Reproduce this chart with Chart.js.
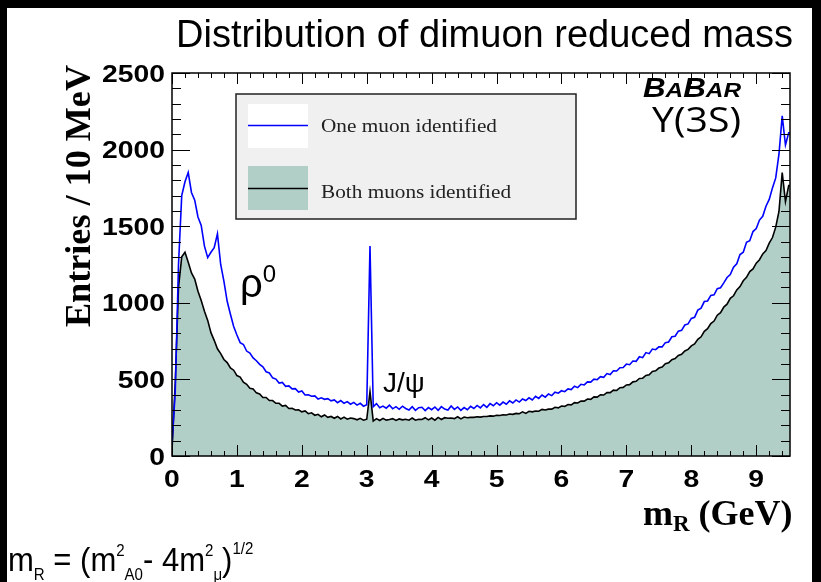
<!DOCTYPE html>
<html>
<head>
<meta charset="utf-8">
<script src="https://cdn.jsdelivr.net/npm/chart.js@4.4.1/dist/chart.umd.min.js"></script>
<style>
  html, body { margin: 0; padding: 0; background: #000; }
  canvas { display: block; }
</style>
</head>
<body>
<canvas id="dimuon" width="821" height="582"></canvas>
<script>
// one point per 50 MeV, starting at 0 GeV
var binWidth = 0.05;

// One muon identified (blue line)
var oneMuon = [
  80, 420, 1250, 1700, 1790, 1850, 1720, 1670, 1560, 1505,
  1370, 1295, 1330, 1360, 1450, 1250, 1140, 1010, 925, 845,
  790, 740, 728, 685, 672, 640, 622, 598, 582, 550,
  542, 510, 502, 476, 480, 455, 458, 438, 440, 418,
  425, 398, 400, 390, 392, 372, 380, 370, 374, 360,
  366, 348, 362, 344, 355, 338, 350, 332, 344, 325,
  335, 1370, 322, 342, 315, 326, 312, 332, 308, 322,
  305, 325, 310, 300, 322, 298, 315, 318, 296, 316,
  302, 320, 298, 322, 306, 300, 326, 304, 320, 298,
  316, 302, 324, 310, 330, 314, 336, 318, 342, 328,
  348, 332, 352, 338, 360, 346, 366, 352, 372, 362,
  380, 366, 390, 376, 398, 384, 405, 394, 416, 410,
  426, 420, 438, 434, 455, 446, 468, 464, 484, 482,
  502, 498, 518, 514, 538, 532, 556, 555, 576, 578,
  600, 596, 620, 618, 648, 642, 675, 668, 698, 694,
  712, 712, 740, 744, 778, 782, 815, 820, 855, 862,
  898, 905, 952, 965, 1008, 1012, 1048, 1052, 1092, 1098,
  1130, 1165, 1185, 1232, 1255, 1315, 1330, 1395, 1405, 1465,
  1485, 1540, 1565, 1630, 1675, 1750, 1815, 1970, 2220, 2030,
  2110
];

// Both muons identified (black line, filled)
var bothMuons = [
  40, 480, 1100, 1300, 1330, 1265, 1195, 1155, 1075, 1015,
  945, 885, 805, 755, 700, 668, 630, 610, 575, 560,
  525, 515, 482, 468, 442, 438, 412, 405, 382, 382,
  362, 362, 344, 344, 326, 330, 310, 312, 300, 302,
  288, 294, 276, 282, 266, 272, 256, 268, 252, 258,
  246, 258, 242, 254, 240, 248, 244, 236, 246, 234,
  240, 420, 228, 244, 232, 246, 234, 238, 244, 232,
  242, 236, 240, 234, 248, 234, 240, 238, 250, 236,
  248, 234, 252, 238, 250, 246, 248, 244, 256, 242,
  254, 250, 252, 252, 256, 254, 258, 258, 262, 260,
  266, 264, 269, 268, 274, 272, 278, 276, 288, 278,
  292, 288, 294, 292, 304, 300, 306, 306, 318, 314,
  326, 324, 336, 334, 348, 346, 358, 358, 372, 370,
  386, 384, 400, 398, 414, 414, 430, 428, 446, 448,
  464, 466, 484, 488, 506, 508, 526, 530, 552, 556,
  574, 581, 602, 608, 629, 636, 656, 664, 686, 696,
  719, 731, 762, 778, 814, 831, 864, 881, 919, 936,
  972, 991, 1029, 1046, 1084, 1106, 1144, 1166, 1204, 1221,
  1259, 1281, 1319, 1341, 1389, 1426, 1494, 1596, 1850, 1660,
  1765
];

var xTickLabels = ['0', '1', '2', '3', '4', '5', '6', '7', '8', '9'];
var yTickLabels = ['0', '500', '1000', '1500', '2000', '2500'];
var xMax = 9.52;
var fillColor = '#b2cfc7';

function toPoints(vals) {
  var pts = vals.map(function (v, i) {
    return { x: +(i * binWidth).toFixed(2), y: v };
  });
  pts.push({ x: xMax, y: vals[vals.length - 1] });
  return pts;
}

function stretched(c, txt, x, y, font, sx, align) {
  c.font = font;
  var w = c.measureText(txt).width * sx;
  var x0 = align === 'right' ? x - w : (align === 'center' ? x - w / 2 : x);
  c.save();
  c.translate(x0, y);
  c.scale(sx, 1);
  c.textAlign = 'left';
  c.fillText(txt, 0, 0);
  c.restore();
}

function fitted(c, txt, x, y, font, width) {
  c.font = font;
  var sx = width / c.measureText(txt).width;
  stretched(c, txt, x, y, font, sx, 'left');
}

// a row of text pieces: [text, size, dy, style, family]
function runs(c, x, y, list) {
  list.forEach(function (r) {
    c.font = (r[3] ? r[3] + ' ' : '') + r[1] + 'px ' + r[4];
    c.textAlign = 'left';
    c.fillText(r[0], x, y + r[2]);
    x += c.measureText(r[0]).width;
  });
}

var rootStyle = {
  id: 'rootStyle',
  beforeDraw: function (chart) {
    var c = chart.ctx;
    c.save();
    c.fillStyle = '#000';
    c.fillRect(0, 0, chart.width, chart.height);
    c.fillStyle = '#fff';
    c.fillRect(7, 8, 805, 574);
    c.restore();
  },
  afterDraw: function (chart) {
    var c = chart.ctx, a = chart.chartArea;
    var xs = chart.scales.x, ys = chart.scales.y;
    c.save();

    // frame + inward ticks
    c.strokeStyle = '#000';
    c.lineWidth = 1;
    for (var v = 0; v <= 2500; v += 100) {
      var py = Math.round(ys.getPixelForValue(v)) + 0.5;
      var len = v % 500 === 0 ? 18 : 9;
      c.beginPath();
      c.moveTo(a.left, py); c.lineTo(a.left + len, py);
      c.moveTo(a.right, py); c.lineTo(a.right - len, py);
      c.stroke();
    }
    for (var k = 0; k * 0.2 <= xMax; k++) {
      var px = Math.round(xs.getPixelForValue(k * 0.2)) + 0.5;
      var l2 = k % 5 === 0 ? 11 : 5;
      c.beginPath();
      c.moveTo(px, a.bottom); c.lineTo(px, a.bottom - l2);
      c.moveTo(px, a.top); c.lineTo(px, a.top + l2);
      c.stroke();
    }
    c.lineWidth = 1.5;
    c.strokeRect(a.left, a.top, a.right - a.left, a.bottom - a.top);

    // tick labels
    c.fillStyle = '#000';
    c.textBaseline = 'alphabetic';
    yTickLabels.forEach(function (t) {
      stretched(c, t, a.left - 7, ys.getPixelForValue(+t) + 8.5,
        'bold 24px "Liberation Sans"', 1.18, 'right');
    });
    xTickLabels.forEach(function (t) {
      stretched(c, t, xs.getPixelForValue(+t), a.bottom + 31,
        'bold 24px "Liberation Sans"', 1.18, 'center');
    });

    // title
    fitted(c, 'Distribution of dimuon reduced mass', 176, 47,
      '38px "Liberation Sans"', 617);

    // y axis title
    c.save();
    c.translate(90, 327);
    c.rotate(-Math.PI / 2);
    fitted(c, 'Entries / 10 MeV', 0, 0, 'bold 36px "Liberation Serif"', 262);
    c.restore();

    // x axis title
    var serif = '"Liberation Serif"';
    runs(c, 643, 525, [
      ['m', 36, 0, 'bold', serif],
      ['R', 23, 6, 'bold', serif],
      [' (GeV)', 36, 0, 'bold', serif]
    ]);

    // formula
    var sans = '"Liberation Sans"';
    c.save();
    c.translate(8, 571);
    c.scale(0.94, 1);
    runs(c, 0, 0, [
      ['m', 33, 0, '', sans], ['R', 16, 9, '', sans], [' = (m', 33, 0, '', sans],
      ['2', 16, -15, '', sans], ['A0', 16, 9, '', sans], ['- 4m', 33, 0, '', sans],
      ['2', 16, -15, '', sans], ['\u03bc', 16, 9, '', sans], [')', 33, 0, '', sans],
      ['1/2', 16, -17, '', sans]
    ]);
    c.restore();

    // legend
    c.fillStyle = '#f0f0f0';
    c.fillRect(236, 94, 340, 125);
    c.strokeStyle = '#222';
    c.lineWidth = 1.5;
    c.strokeRect(236, 94, 340, 125);
    c.fillStyle = '#fff';
    c.fillRect(248, 104, 60, 44);
    c.fillStyle = fillColor;
    c.fillRect(248, 166, 60, 44);
    c.strokeStyle = '#0000ff';
    c.beginPath(); c.moveTo(248, 125.5); c.lineTo(308, 125.5); c.stroke();
    c.strokeStyle = '#000';
    c.beginPath(); c.moveTo(248, 188.5); c.lineTo(308, 188.5); c.stroke();
    c.fillStyle = '#222';
    fitted(c, 'One muon identified', 321, 132, '19px "Liberation Serif"', 176);
    fitted(c, 'Both muons identified', 321, 198, '19px "Liberation Serif"', 190);

    // annotations
    c.fillStyle = '#000';
    var bi = 'italic bold';
    c.save();
    c.translate(643, 97);
    c.scale(1.16, 1);
    runs(c, 0, 0, [
      ['B', 27, 0, bi, sans], ['A', 21, 0, bi, sans],
      ['B', 27, 0, bi, sans], ['AR', 21, 0, bi, sans]
    ]);
    c.restore();
    fitted(c, '\u03a5(3S)', 652, 132, '34px "Open Sans"', 89);
    runs(c, 240, 297, [['\u03c1', 40, 0, '', sans], ['0', 24, -15, '', sans]]);
    runs(c, 383, 392, [['J/\u03c8', 28, 0, '', sans]]);

    c.restore();
  }
};

new Chart(document.getElementById('dimuon'), {
  type: 'line',
  data: {
    datasets: [{
      label: 'One muon identified',
      data: toPoints(oneMuon),
      borderColor: '#0000ff',
      borderWidth: 1.6,
      fill: false,
      pointRadius: 0
    }, {
      label: 'Both muons identified',
      data: toPoints(bothMuons),
      borderColor: '#000',
      backgroundColor: fillColor,
      borderWidth: 1.6,
      fill: 'origin',
      pointRadius: 0
    }]
  },
  options: {
    responsive: false,
    animation: false,
    devicePixelRatio: 1,
    layout: { padding: { left: 172, right: 31, top: 73, bottom: 126 } },
    scales: {
      x: { type: 'linear', min: 0, max: xMax, display: false },
      y: { min: 0, max: 2500, display: false }
    },
    plugins: {
      legend: { display: false },
      tooltip: { enabled: false }
    }
  },
  plugins: [rootStyle]
});
</script>
</body>
</html>
